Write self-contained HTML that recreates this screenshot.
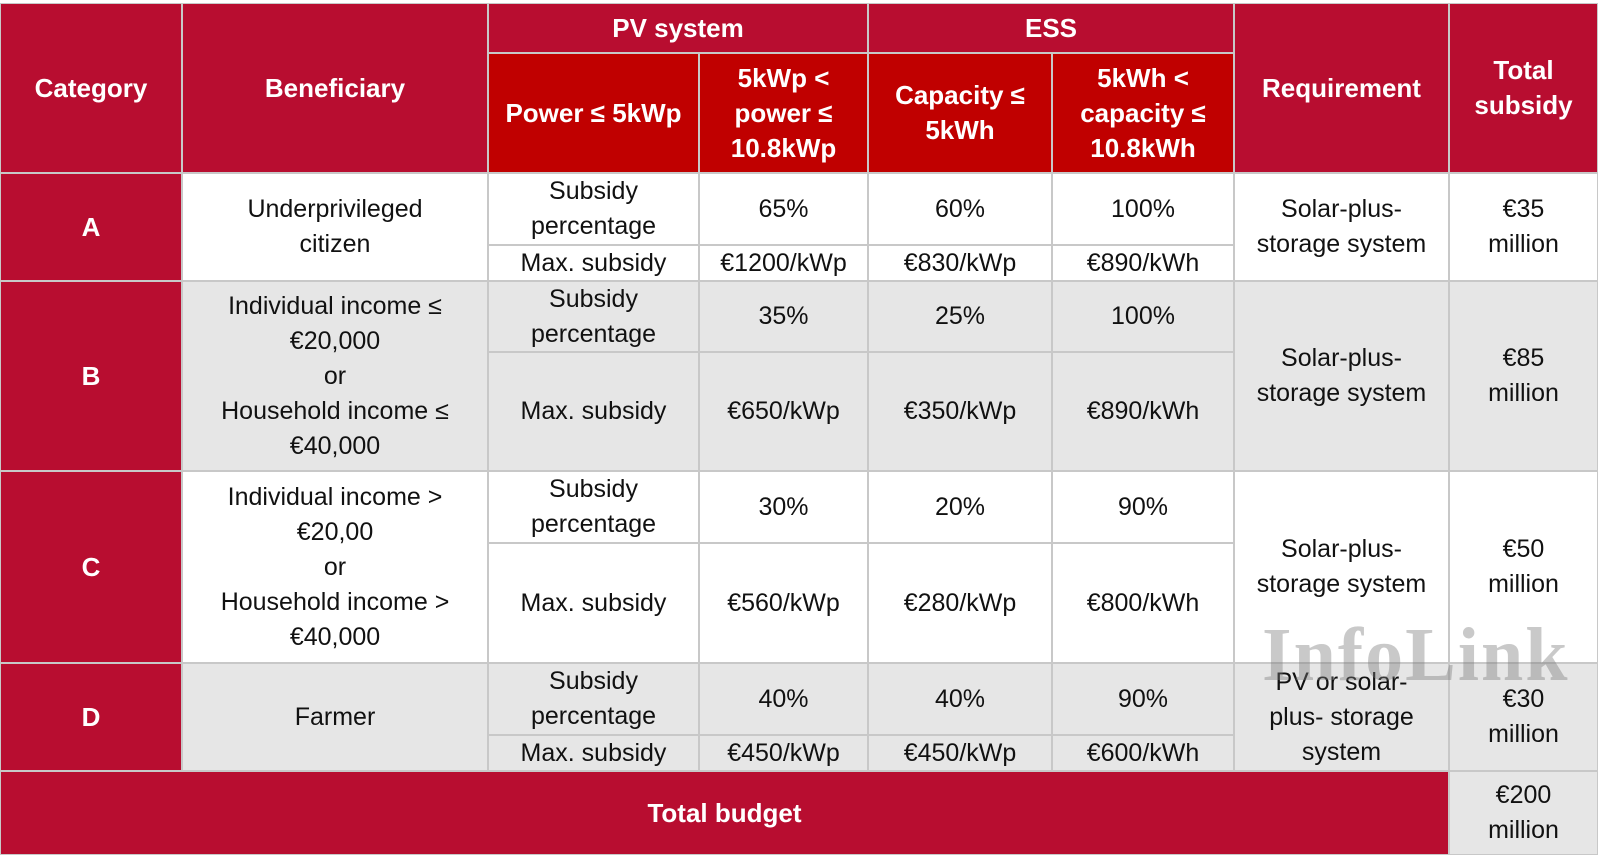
<!DOCTYPE html>
<html><head><meta charset="utf-8"><style>
body{margin:0;width:1600px;height:867px;background:#fff;position:relative;overflow:hidden;font-family:"Liberation Sans",sans-serif}
.c{position:absolute;box-sizing:border-box;border:1px solid #c8c8c8;display:flex;align-items:center;justify-content:center;text-align:center;font-size:25px;line-height:35px;color:#111}
.h{background:#b80d30;color:#fff;font-weight:bold;font-size:26px}
.r{background:#c00000;color:#fff;font-weight:bold;font-size:26px}
.g{background:#e6e6e6}
.w{background:#fff}
.wm{position:absolute;left:1262px;top:612px;font-size:76px;font-family:"Liberation Serif",serif;font-weight:bold;color:rgba(120,120,120,0.4);letter-spacing:2px;pointer-events:none}
</style></head><body>
<div class="c h" style="left:0;top:3px;width:182px;height:170px">Category</div>
<div class="c h" style="left:182px;top:3px;width:306px;height:170px">Beneficiary</div>
<div class="c h" style="left:488px;top:3px;width:380px;height:50px">PV system</div>
<div class="c h" style="left:868px;top:3px;width:366px;height:50px">ESS</div>
<div class="c r" style="left:488px;top:53px;width:211px;height:120px">Power ≤ 5kWp</div>
<div class="c r" style="left:699px;top:53px;width:169px;height:120px">5kWp &lt;<br>power ≤<br>10.8kWp</div>
<div class="c r" style="left:868px;top:53px;width:184px;height:120px">Capacity ≤<br>5kWh</div>
<div class="c r" style="left:1052px;top:53px;width:182px;height:120px">5kWh &lt;<br>capacity ≤<br>10.8kWh</div>
<div class="c h" style="left:1234px;top:3px;width:215px;height:170px">Requirement</div>
<div class="c h" style="left:1449px;top:3px;width:149px;height:170px">Total<br>subsidy</div>

<div class="c h" style="left:0;top:173px;width:182px;height:108px">A</div>
<div class="c w" style="left:182px;top:173px;width:306px;height:108px">Underprivileged<br>citizen</div>
<div class="c w" style="left:488px;top:173px;width:211px;height:72px">Subsidy<br>percentage</div>
<div class="c w" style="left:699px;top:173px;width:169px;height:72px">65%</div>
<div class="c w" style="left:868px;top:173px;width:184px;height:72px">60%</div>
<div class="c w" style="left:1052px;top:173px;width:182px;height:72px">100%</div>
<div class="c w" style="left:488px;top:245px;width:211px;height:36px">Max. subsidy</div>
<div class="c w" style="left:699px;top:245px;width:169px;height:36px">€1200/kWp</div>
<div class="c w" style="left:868px;top:245px;width:184px;height:36px">€830/kWp</div>
<div class="c w" style="left:1052px;top:245px;width:182px;height:36px">€890/kWh</div>
<div class="c w" style="left:1234px;top:173px;width:215px;height:108px">Solar-plus-<br>storage system</div>
<div class="c w" style="left:1449px;top:173px;width:149px;height:108px">€35<br>million</div>

<div class="c h" style="left:0;top:281px;width:182px;height:190px">B</div>
<div class="c g" style="left:182px;top:281px;width:306px;height:190px">Individual income ≤<br>€20,000<br>or<br>Household income ≤<br>€40,000</div>
<div class="c g" style="left:488px;top:281px;width:211px;height:71px">Subsidy<br>percentage</div>
<div class="c g" style="left:699px;top:281px;width:169px;height:71px">35%</div>
<div class="c g" style="left:868px;top:281px;width:184px;height:71px">25%</div>
<div class="c g" style="left:1052px;top:281px;width:182px;height:71px">100%</div>
<div class="c g" style="left:488px;top:352px;width:211px;height:119px">Max. subsidy</div>
<div class="c g" style="left:699px;top:352px;width:169px;height:119px">€650/kWp</div>
<div class="c g" style="left:868px;top:352px;width:184px;height:119px">€350/kWp</div>
<div class="c g" style="left:1052px;top:352px;width:182px;height:119px">€890/kWh</div>
<div class="c g" style="left:1234px;top:281px;width:215px;height:190px">Solar-plus-<br>storage system</div>
<div class="c g" style="left:1449px;top:281px;width:149px;height:190px">€85<br>million</div>

<div class="c h" style="left:0;top:471px;width:182px;height:192px">C</div>
<div class="c w" style="left:182px;top:471px;width:306px;height:192px">Individual income &gt;<br>€20,00<br>or<br>Household income &gt;<br>€40,000</div>
<div class="c w" style="left:488px;top:471px;width:211px;height:72px">Subsidy<br>percentage</div>
<div class="c w" style="left:699px;top:471px;width:169px;height:72px">30%</div>
<div class="c w" style="left:868px;top:471px;width:184px;height:72px">20%</div>
<div class="c w" style="left:1052px;top:471px;width:182px;height:72px">90%</div>
<div class="c w" style="left:488px;top:543px;width:211px;height:120px">Max. subsidy</div>
<div class="c w" style="left:699px;top:543px;width:169px;height:120px">€560/kWp</div>
<div class="c w" style="left:868px;top:543px;width:184px;height:120px">€280/kWp</div>
<div class="c w" style="left:1052px;top:543px;width:182px;height:120px">€800/kWh</div>
<div class="c w" style="left:1234px;top:471px;width:215px;height:192px">Solar-plus-<br>storage system</div>
<div class="c w" style="left:1449px;top:471px;width:149px;height:192px">€50<br>million</div>

<div class="c h" style="left:0;top:663px;width:182px;height:108px">D</div>
<div class="c g" style="left:182px;top:663px;width:306px;height:108px">Farmer</div>
<div class="c g" style="left:488px;top:663px;width:211px;height:72px">Subsidy<br>percentage</div>
<div class="c g" style="left:699px;top:663px;width:169px;height:72px">40%</div>
<div class="c g" style="left:868px;top:663px;width:184px;height:72px">40%</div>
<div class="c g" style="left:1052px;top:663px;width:182px;height:72px">90%</div>
<div class="c g" style="left:488px;top:735px;width:211px;height:36px">Max. subsidy</div>
<div class="c g" style="left:699px;top:735px;width:169px;height:36px">€450/kWp</div>
<div class="c g" style="left:868px;top:735px;width:184px;height:36px">€450/kWp</div>
<div class="c g" style="left:1052px;top:735px;width:182px;height:36px">€600/kWh</div>
<div class="c g" style="left:1234px;top:663px;width:215px;height:108px">PV or solar-<br>plus- storage<br>system</div>
<div class="c g" style="left:1449px;top:663px;width:149px;height:108px">€30<br>million</div>

<div class="c h" style="left:0;top:771px;width:1449px;height:84px">Total budget</div>
<div class="c g" style="left:1449px;top:771px;width:149px;height:84px">€200<br>million</div>

<div class="wm">InfoLink</div>
</body></html>
